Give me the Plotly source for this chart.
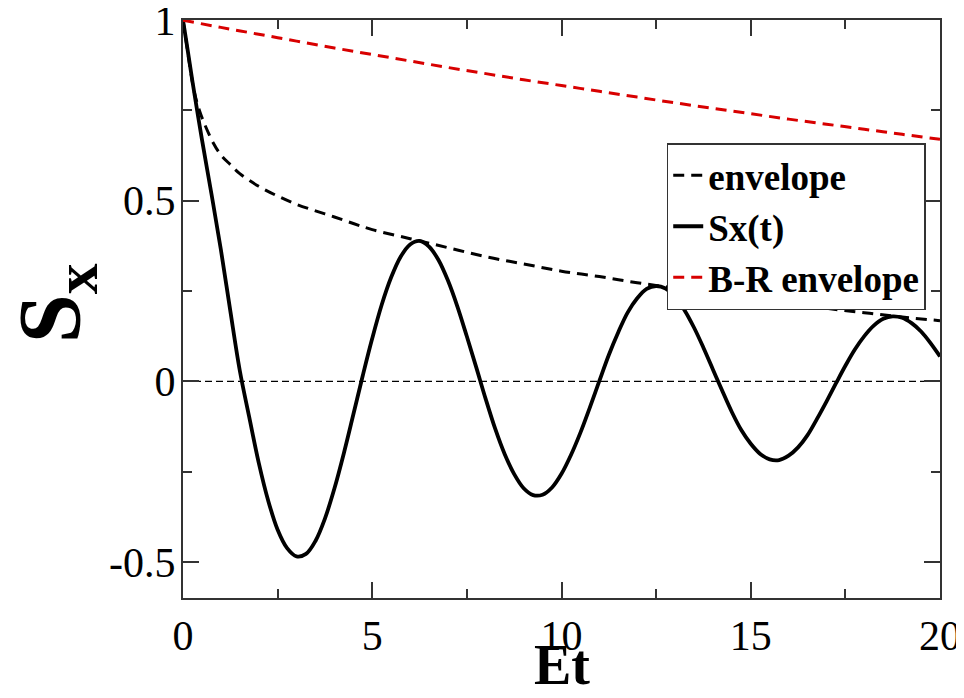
import plotly.graph_objects as go

# ---- data ----
t_sx = [0, 0.1, 0.25, 0.5, 0.75, 1.0, 1.25, 1.5, 1.75, 2.0, 2.25, 2.5, 2.75, 3.0, 3.25, 3.5, 3.75,
        4.0, 4.25, 4.5, 4.75, 5.0, 5.25, 5.5, 5.75, 6.0, 6.25, 6.5, 6.75, 7.0, 7.25, 7.5, 7.75,
        8.0, 8.25, 8.5, 8.75, 9.0, 9.25, 9.5, 9.75, 10.0, 10.25, 10.5, 10.75, 11.0, 11.25, 11.5,
        11.75, 12.0, 12.25, 12.5, 12.75, 13.0, 13.25, 13.5, 13.75, 14.0, 14.25, 14.5, 14.75, 15.0,
        15.25, 15.5, 15.75, 16.0, 16.25, 16.5, 16.75, 17.0, 17.25, 17.5, 17.75, 18.0, 18.25, 18.5,
        18.75, 19.0, 19.25, 19.5, 19.75, 20.0]
sx = [1.0, 0.933, 0.83, 0.67, 0.52, 0.365, 0.195, 0.03, -0.099, -0.225, -0.330, -0.411, -0.462,
      -0.485, -0.478, -0.442, -0.380, -0.297, -0.199, -0.092, 0.016, 0.119, 0.212, 0.288, 0.345,
      0.379, 0.389, 0.373, 0.336, 0.279, 0.207, 0.124, 0.038, -0.050, -0.132, -0.202, -0.257,
      -0.296, -0.315, -0.314, -0.294, -0.256, -0.204, -0.142, -0.072, 0.001, 0.073, 0.136, 0.191,
      0.230, 0.256, 0.264, 0.257, 0.234, 0.197, 0.149, 0.093, 0.033, -0.027, -0.085, -0.135,
      -0.173, -0.201, -0.216, -0.218, -0.206, -0.183, -0.149, -0.104, -0.056, -0.006, 0.043,
      0.088, 0.125, 0.154, 0.173, 0.180, 0.176, 0.161, 0.138, 0.106, 0.069]

t_env = [0, 0.1, 0.2, 0.3, 0.45, 0.6, 0.8, 1.0, 1.25, 1.5, 2.0, 2.5, 3.0, 3.5, 4.0, 4.5, 5.0, 6.0,
         7.0, 8.0, 9.0, 10.0, 11.0, 12.0, 13.0, 14.0, 15.0, 16.0, 17.0, 18.0, 19.0, 20.0]
env = [1.0, 0.93, 0.86, 0.80, 0.745, 0.705, 0.66, 0.627, 0.60, 0.575, 0.54, 0.513, 0.49, 0.472,
       0.455, 0.437, 0.42, 0.395, 0.37, 0.345, 0.325, 0.305, 0.29, 0.273, 0.258, 0.243, 0.228,
       0.215, 0.202, 0.19, 0.178, 0.168]

t_br = [0, 1, 2, 3, 4, 5, 6, 7, 8, 9, 10, 11, 12, 13, 14, 15, 16, 17, 18, 19, 20]
br_env = [1.0, 0.980, 0.961, 0.942, 0.923, 0.905, 0.887, 0.869, 0.852, 0.835, 0.819, 0.803,
          0.787, 0.771, 0.756, 0.741, 0.726, 0.712, 0.698, 0.684, 0.670]

zero_x = [0, 20]
zero_y = [0, 0]

x_tickvals = [0, 5, 10, 15, 20]
x_ticktext = ["0", "5", "10", "15", "20"]
y_tickvals = [-0.5, 0, 0.5, 1]
y_ticktext = ["-0.5", "0", "0.5", "1"]

FONT = "Liberation Serif, Times New Roman, serif"

fig = go.Figure()
fig.add_trace(go.Scatter(x=zero_x, y=zero_y, mode="lines", showlegend=False,
                         line=dict(color="black", width=1.2, dash="7px,4px")))
fig.add_trace(go.Scatter(x=t_env, y=env, mode="lines", name="<b>envelope</b>",
                         line=dict(color="black", width=3, dash="11px,7px", shape="spline")))
fig.add_trace(go.Scatter(x=t_sx, y=sx, mode="lines", name="<b>Sx(t)</b>",
                         line=dict(color="black", width=3.8, shape="spline")))
fig.add_trace(go.Scatter(x=t_br, y=br_env, mode="lines", name="<b>B-R envelope</b>",
                         line=dict(color="#d80000", width=3, dash="11px,7px", shape="spline")))

axis_common = dict(
    showgrid=False, zeroline=False, showline=True, linecolor="#333", linewidth=2,
    mirror="allticks", ticks="inside", ticklen=16, tickwidth=1.5, tickcolor="#333",
    tickfont=dict(family=FONT, size=42, color="black"), ticklabeloverflow="allow",
)

fig.update_xaxes(range=[0, 20], tickmode="array", tickvals=x_tickvals, ticktext=x_ticktext,
                 minor=dict(dtick=2.5, ticks="inside", ticklen=9, tickwidth=1.5, tickcolor="#333",
                            showgrid=False),
                 **axis_common)
fig.update_yaxes(range=[-0.6, 1.0005], tickmode="array", tickvals=y_tickvals, ticktext=y_ticktext,
                 ticklabelstandoff=-3,
                 minor=dict(dtick=0.25, tick0=0, ticks="inside", ticklen=9, tickwidth=1.5,
                            tickcolor="#333", showgrid=False),
                 **axis_common)

# axis titles placed as annotations so their positions match the reference
fig.add_annotation(text="<b>S<sub>x</sub></b>", textangle=-90, showarrow=False,
                   xref="paper", yref="paper", x=0, y=0.51, xanchor="center", yanchor="middle",
                   xshift=-128, font=dict(family=FONT, size=88, color="black"))
fig.add_annotation(text="<b>Et</b>", showarrow=False,
                   xref="paper", yref="paper", x=0.5, y=0, xanchor="center", yanchor="top",
                   yshift=-34, font=dict(family=FONT, size=56, color="black"))

# the page body adds an 8px margin, so the figure is 8px smaller than the window
fig.update_layout(
    width=956, height=690,
    margin=dict(l=175, r=24, t=12, b=100, autoexpand=False),
    plot_bgcolor="white", paper_bgcolor="white",
    legend=dict(x=0.639, y=0.787, xanchor="left", yanchor="top",
                bgcolor="white", bordercolor="#333", borderwidth=1.5,
                font=dict(family=FONT, size=37, color="black"),
                itemwidth=30, tracegroupgap=0),
)

fig.write_html("out.html")
